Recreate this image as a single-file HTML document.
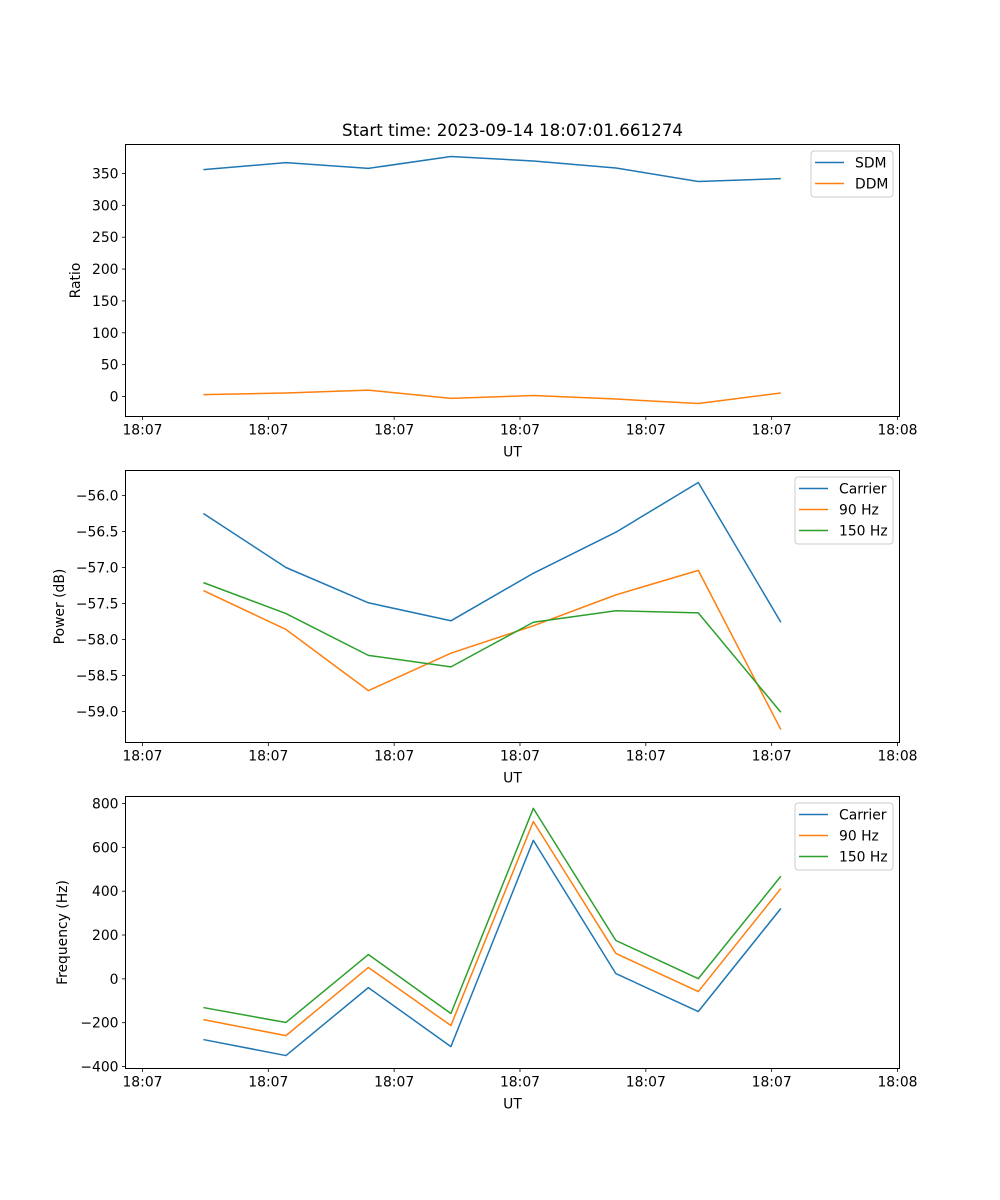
<!DOCTYPE html>
<html><head><meta charset="utf-8">
<style>
html,body{margin:0;padding:0;background:#fff;}
svg{display:block;font-family:"DejaVu Sans","Liberation Sans",sans-serif;}
</style></head>
<body>
<svg id="chart" width="1000" height="1200" viewBox="0 0 1000 1200" xmlns="http://www.w3.org/2000/svg">
<rect x="0" y="0" width="1000" height="1200" fill="#fff"/>
<text x="512.5" y="136" font-size="16.7" text-anchor="middle">Start time: 2023-09-14 18:07:01.661274</text>
</svg>
<script>
// time data (seconds offset); ticks every 10 s
const times = [4.84, 11.40, 17.95, 24.51, 31.06, 37.62, 44.17, 50.73];
const xTicks = [0, 10, 20, 30, 40, 50, 60];
const xTickLabels = ["18:07","18:07","18:07","18:07","18:07","18:07","18:08"];

const sdm = [356, 367, 358, 376.7, 369.6, 358.6, 337.5, 342];
const ddm = [3, 5.5, 10, -3, 1.5, -4, -11, 5.5];
const ratioTicks = [0, 50, 100, 150, 200, 250, 300, 350];

const powCarrier = [-56.25, -57.0, -57.49, -57.74, -57.08, -56.51, -55.82, -57.76];
const pow90 = [-57.32, -57.86, -58.71, -58.19, -57.81, -57.38, -57.04, -59.25];
const pow150 = [-57.21, -57.64, -58.22, -58.38, -57.76, -57.6, -57.63, -59.01];
const powTicks = [-59.0, -58.5, -58.0, -57.5, -57.0, -56.5, -56.0];

const freqCarrier = [-277, -350, -40, -309, 632, 24, -149, 321];
const freq90 = [-186, -259, 52, -213, 718, 116, -58, 412];
const freq150 = [-131, -199, 111, -158, 778, 175, 1, 468];
const freqTicks = [-400, -200, 0, 200, 400, 600, 800];

const NS = "http://www.w3.org/2000/svg";
const svg = document.getElementById("chart");
const L = 125.5, R = 899.5, T0 = -1.35, T1 = 60.16;
function xs(t){ return L + (t - T0) / (T1 - T0) * (R - L); }
function el(tag, attrs, parent){ const e = document.createElementNS(NS, tag); for (const k in attrs) e.setAttribute(k, attrs[k]); (parent||svg).appendChild(e); return e; }

function panel(name, top, bottom, ymin, ymax, yTicks, fmt, ylabel, ylabelX, series, legend){
  const g = el("g", {});
  
  
  const ys = v => bottom - (v - ymin) / (ymax - ymin) * (bottom - top);
  series.forEach(s => {
    const d = s.vals.map((v,i) => (i?"L":"M") + xs(times[i]).toFixed(2) + " " + ys(v).toFixed(2)).join(" ");
    const p = el("path", {d: d, fill: "none", stroke: s.color, "stroke-width": 1.5, "stroke-linejoin": "round"}, g);
    
    
  });
  const frame = el("rect", {x: L, y: top, width: R - L, height: bottom - top, fill: "none", stroke: "#000", "stroke-width": 1}, g);
  
  
  xTicks.forEach((t,i) => {
    const x = xs(t);
    el("line", {x1: x, x2: x, y1: bottom, y2: bottom + 3.5, stroke: "#000", "stroke-width": 0.8}, g);
    const tx = el("text", {x: x, y: bottom + 18, "font-size": 13.9, "text-anchor": "middle"}, g);
    tx.textContent = xTickLabels[i];
    
    
  });
  const xl = el("text", {x: (L+R)/2, y: bottom + 40, "font-size": 13.9, "text-anchor": "middle"}, g);
  xl.textContent = "UT";
  
  
  yTicks.forEach(v => {
    const y = ys(v);
    el("line", {x1: L - 3.5, x2: L, y1: y, y2: y, stroke: "#000", "stroke-width": 0.8}, g);
    const tx = el("text", {x: L - 7, y: y + 5, "font-size": 13.9, "text-anchor": "end"}, g);
    tx.textContent = fmt(v);
    
    
  });
  const cy = (top + bottom) / 2;
  const yl = el("text", {x: ylabelX, y: cy, "font-size": 13.9, "text-anchor": "middle", transform: "rotate(-90 " + ylabelX + " " + cy + ")"}, g);
  yl.textContent = ylabel;
  
  
  const lg = el("g", {}, g);
  
  
  el("rect", {x: legend.x, y: top + 6.5, width: legend.w, height: 21 * series.length + 4, rx: 3, fill: "#fff", "fill-opacity": 0.8, stroke: "#ccc", "stroke-width": 1}, lg);
  series.forEach((s,i) => {
    const y = top + 18 + 21 * i;
    const ln = el("line", {x1: legend.x + 4, x2: legend.x + 33, y1: y, y2: y, stroke: s.color, "stroke-width": 1.5}, lg);
    
    
    const tx = el("text", {x: legend.x + 44, y: y + 5, "font-size": 13.9}, lg);
    tx.textContent = s.label;
    
    
  });
}

const C1 = "#1f77b4", C2 = "#ff7f0e", C3 = "#2ca02c";
panel("ratio", 144.5, 416.5, -31.4, 395.5, ratioTicks, v => String(v), "Ratio", 80,
  [{key:"sdm", label:"SDM", vals: sdm, color: C1}, {key:"ddm", label:"DDM", vals: ddm, color: C2}],
  {x: 811, w: 82});
panel("power", 470.5, 742.5, -59.43, -55.653, powTicks, v => "\u2212" + Math.abs(v).toFixed(1), "Power (dB)", 64,
  [{key:"carrier", label:"Carrier", vals: powCarrier, color: C1}, {key:"90hz", label:"90 Hz", vals: pow90, color: C2}, {key:"150hz", label:"150 Hz", vals: pow150, color: C3}],
  {x: 795, w: 98});
panel("frequency", 796.5, 1068.5, -409, 832, freqTicks, v => v < 0 ? "\u2212" + Math.abs(v) : String(v), "Frequency (Hz)", 67,
  [{key:"carrier", label:"Carrier", vals: freqCarrier, color: C1}, {key:"90hz", label:"90 Hz", vals: freq90, color: C2}, {key:"150hz", label:"150 Hz", vals: freq150, color: C3}],
  {x: 795, w: 98});
</script>
</body></html>
